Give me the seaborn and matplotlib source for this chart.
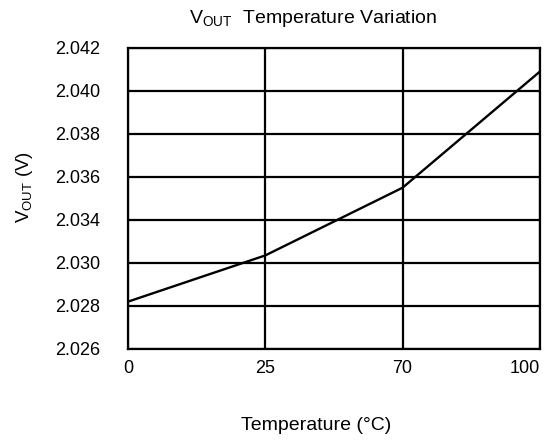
import numpy as np
import pandas as pd
import seaborn as sns
import matplotlib.pyplot as plt

# temperatures on an evenly spaced (non-linear) axis
temps = [0, 25, 70, 100]
temp_labels = ["0", "25", "70", "100"]
vout = [2.0282, 2.0307, 2.0355, 2.0409]
# the original chart skips 2.032 on an evenly spaced y axis
y_ticks = [2.026, 2.028, 2.030, 2.034, 2.036, 2.038, 2.040, 2.042]
y_labels = ["2.026", "2.028", "2.030", "2.034", "2.036", "2.038", "2.040", "2.042"]

sns.set_style("white")
plt.rcParams["font.family"] = ["Liberation Sans", "DejaVu Sans"]
plt.rcParams["mathtext.fontset"] = "custom"
plt.rcParams["mathtext.rm"] = "Liberation Sans"
plt.rcParams["mathtext.it"] = "Liberation Sans"
for key in ["text.color", "axes.labelcolor", "xtick.color", "ytick.color"]:
    plt.rcParams[key] = "black"

df = pd.DataFrame({"temp": temps, "vout": vout})

x_idx = np.arange(len(temps), dtype=float)
y_idx = np.arange(len(y_ticks), dtype=float)

fig = plt.figure(figsize=(5.52, 4.4), dpi=100)
ax = fig.add_axes([0.232, 0.207, 0.746, 0.684])

sns.lineplot(data=df, x="temp", y="vout", color="black", linewidth=1.7, ax=ax)

ax.set_xscale("function", functions=(lambda v: np.interp(v, temps, x_idx),
                                     lambda p: np.interp(p, x_idx, temps)))
ax.set_yscale("function", functions=(lambda v: np.interp(v, y_ticks, y_idx),
                                     lambda p: np.interp(p, y_idx, y_ticks)))
ax.set_xlim(temps[0], temps[-1])
ax.set_ylim(y_ticks[0], y_ticks[-1])
ax.set_xticks(temps, labels=temp_labels)
ax.set_yticks(y_ticks, labels=y_labels)
ax.minorticks_off()
ax.tick_params(length=0, labelsize=13, pad=8)
ax.tick_params(axis="y", pad=20)
ax.get_xticklabels()[-1].set_ha("right")

ax.grid(True, color="black", linewidth=1.6)
for s in ax.spines.values():
    s.set_visible(True)
    s.set_color("black")
    s.set_linewidth(1.6)

ax.set_xlabel("")
ax.set_ylabel("")
fig.text(0.0435, 0.576, r"V$_{\mathrm{OUT}}$ (V)", rotation=90, ha="center",
         va="center", fontsize=13.5)
fig.text(0.573, 0.032, "Temperature (°C)", ha="center", va="center", fontsize=14)
fig.text(0.567, 0.959, r"V$_{\mathrm{OUT}}$  Temperature Variation", ha="center",
         va="center", fontsize=14)

fig.savefig("out.png", dpi=100)
